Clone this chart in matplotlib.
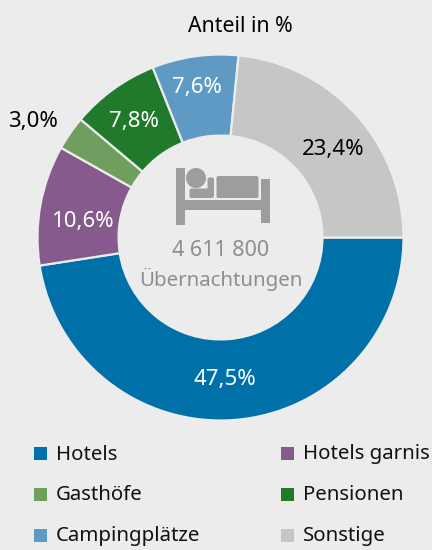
import matplotlib
matplotlib.use("Agg")
import matplotlib.pyplot as plt
from matplotlib.patches import Rectangle, Circle, FancyBboxPatch

categories = ["Hotels", "Hotels garnis", "Gasthöfe", "Pensionen", "Campingplätze", "Sonstige"]
values = [47.5, 10.6, 3.0, 7.8, 7.6, 23.4]
labels = ["47,5%", "10,6%", "3,0%", "7,8%", "7,6%", "23,4%"]
colors = ["#0071a8", "#865a8c", "#6f9e5e", "#217a2b", "#5f9ac4", "#c6c6c6"]
label_colors = ["white", "white", "black", "white", "white", "black"]
title = "Anteil in %"
center_lines = ["4 611 800", "Übernachtungen"]

BG = "#ececec"
W, H = 432, 550
plt.rcParams["font.family"] = ["Noto Sans", "DejaVu Sans"]
fig = plt.figure(figsize=(W / 100, H / 100), dpi=100, facecolor=BG)

cx, cy, R = 220.5, 237.5, 183
ax = fig.add_axes([(cx - R) / W, 1 - (cy + R) / H, 2 * R / W, 2 * R / H])
ax.pie(values, colors=colors, startangle=0, counterclock=False, radius=1,
       wedgeprops=dict(width=0.443, edgecolor=BG, linewidth=1.6))
ax.set_xlim(-1, 1)
ax.set_ylim(-1, 1)
ax.set_aspect("equal")
ax.axis("off")

# Overlay in pixel coordinates for text and icon
ov = fig.add_axes([0, 0, 1, 1])
ov.set_xlim(0, W)
ov.set_ylim(H, 0)
ov.axis("off")
ov.patch.set_alpha(0)

FS = 14.7
FS_NUM = 16.0
ov.text(240, 27, title, ha="center", va="center", fontsize=15.3, color="black")

label_pos = [(225, 379), (82, 221), (33, 121), (134, 122), (197, 88), (333, 149)]
for s, c, (x, y) in zip(labels, label_colors, label_pos):
    ov.text(x, y, s, ha="center", va="center", fontsize=FS_NUM, color=c)

grey = "#9d9d9c"
txt_grey = "#8e8e8d"
ov.text(221, 250, center_lines[0], ha="center", va="center", fontsize=15.5, color=txt_grey)
ov.text(221, 279, center_lines[1], ha="center", va="center", fontsize=FS, color=txt_grey)

# Bed icon
for x, y, w, h in [(175.7, 168, 9.3, 57), (260.7, 179, 9.3, 44), (175.7, 200, 94, 10)]:
    ov.add_patch(Rectangle((x, y), w, h, fc=grey, ec="none"))
ov.add_patch(Circle((196, 178), 10, fc=grey, ec="none"))
for x, y, w, h in [(216.5, 176, 42, 22), (189.5, 188.5, 24, 9.5), (207.5, 177.5, 6.5, 20)]:
    ov.add_patch(FancyBboxPatch((x + 2, y + 2), w - 4, h - 4,
                                boxstyle="round,pad=2,rounding_size=2", fc=grey, ec="none"))

# Legend
leg_x = [34, 281]
leg_y = [453.5, 494.5, 535.5]
order = [(0, 0, 0), (1, 1, 0), (2, 0, 1), (3, 1, 1), (4, 0, 2), (5, 1, 2)]
for i, col, row in order:
    ov.add_patch(Rectangle((leg_x[col], leg_y[row] - 6.5), 13, 13, fc=colors[i], ec="none"))
    ov.text(leg_x[col] + 22, leg_y[row] + 1, categories[i], ha="left", va="center",
            fontsize=FS, color="#111111")

fig.savefig("out.png", dpi=100, facecolor=BG)
